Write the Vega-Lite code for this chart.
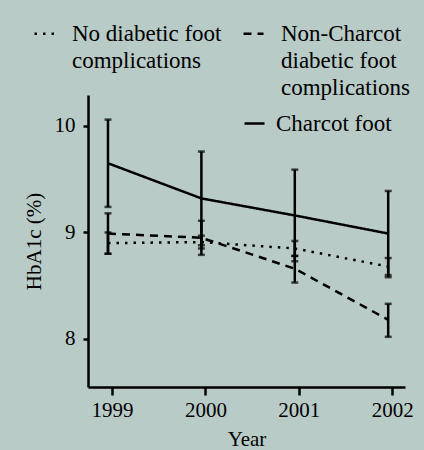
{
  "$schema": "https://vega.github.io/schema/vega-lite/v6.json",
  "width": 317,
  "height": 292,
  "autosize": "none",
  "padding": {"left": 88, "top": 95, "right": 19, "bottom": 63},
  "background": "#b9cbc7",
  "config": {
    "view": {"stroke": null},
    "font": "Liberation Serif",
    "axis": {
      "grid": false,
      "domainColor": "black",
      "domainWidth": 2.5,
      "tickColor": "black",
      "tickWidth": 2.5,
      "labelFont": "Liberation Serif",
      "labelFontSize": 21,
      "labelColor": "black",
      "titleFont": "Liberation Serif",
      "titleFontSize": 21,
      "titleFontWeight": "normal",
      "titleColor": "black"
    }
  },
  "data": {
    "values": [
      {"group": "No diabetic foot complications", "year": 1999, "mean": 8.90, "lo": 8.80, "hi": 9.00},
      {"group": "No diabetic foot complications", "year": 2000, "mean": 8.91, "lo": 8.85, "hi": 8.97},
      {"group": "No diabetic foot complications", "year": 2001, "mean": 8.85, "lo": 8.78, "hi": 8.92},
      {"group": "No diabetic foot complications", "year": 2002, "mean": 8.68, "lo": 8.60, "hi": 8.76},
      {"group": "Non-Charcot diabetic foot complications", "year": 1999, "mean": 8.99, "lo": 8.80, "hi": 9.18},
      {"group": "Non-Charcot diabetic foot complications", "year": 2000, "mean": 8.95, "lo": 8.79, "hi": 9.11},
      {"group": "Non-Charcot diabetic foot complications", "year": 2001, "mean": 8.66, "lo": 8.53, "hi": 8.78},
      {"group": "Non-Charcot diabetic foot complications", "year": 2002, "mean": 8.18, "lo": 8.02, "hi": 8.33},
      {"group": "Charcot foot", "year": 1999, "mean": 9.65, "lo": 9.24, "hi": 10.06},
      {"group": "Charcot foot", "year": 2000, "mean": 9.32, "lo": 8.88, "hi": 9.76},
      {"group": "Charcot foot", "year": 2001, "mean": 9.16, "lo": 8.73, "hi": 9.59},
      {"group": "Charcot foot", "year": 2002, "mean": 8.99, "lo": 8.58, "hi": 9.39}
    ]
  },
  "encoding": {
    "x": {
      "field": "year",
      "type": "quantitative",
      "scale": {"domain": [1998.786, 2002.18], "nice": false, "zero": false},
      "axis": {
        "values": [1999, 2000, 2001, 2002],
        "format": "d",
        "tickSize": 8,
        "labelPadding": 4,
        "tickOffset": 4,
        "title": "Year",
        "titlePadding": 8
      }
    }
  },
  "layer": [
    {
      "transform": [{"filter": "datum.group != 'Charcot foot'"}],
      "mark": {"type": "line", "color": "black", "strokeWidth": 2.5},
      "encoding": {
        "y": {
          "field": "mean",
          "type": "quantitative",
          "title": "HbA1c (%)",
          "scale": {"domain": [7.549, 10.291], "nice": false, "zero": false},
          "axis": {
            "values": [8, 9, 10],
            "format": "d",
            "tickSize": 5,
            "labelPadding": 8,
            "title": "HbA1c (%)",
            "titlePadding": 10
          }
        },
        "strokeDash": {
          "field": "group",
          "type": "nominal",
          "scale": {
            "domain": ["No diabetic foot complications", "Non-Charcot diabetic foot complications"],
            "range": [[2.5, 6], [8, 6]]
          },
          "legend": {
            "orient": "none",
            "legendX": -55,
            "legendY": -73,
            "direction": "horizontal",
            "columns": 2,
            "title": null,
            "labelFont": "Liberation Serif",
            "labelFontSize": 23,
            "labelColor": "black",
            "labelLimit": 400,
            "symbolType": "stroke",
            "symbolSize": 400,
            "symbolStrokeWidth": 2.5,
            "symbolStrokeColor": "black",
            "labelOffset": 16,
            "columnPadding": 16,
            "labelExpr": "datum.label == 'No diabetic foot complications' ? ['No diabetic foot', 'complications', ''] : ['Non-Charcot', 'diabetic foot', 'complications']",
            "encode": {"labels": {"update": {"lineHeight": {"value": 27}}}}
          }
        }
      }
    },
    {
      "mark": {"type": "errorbar", "color": "black", "thickness": 2.5, "ticks": {"size": 7, "thickness": 2.5, "color": "black"}},
      "encoding": {
        "y": {"field": "lo", "type": "quantitative", "title": "HbA1c (%)"},
        "y2": {"field": "hi"}
      }
    },
    {
      "transform": [{"filter": "datum.group == 'Charcot foot'"}],
      "mark": {"type": "line", "color": "black", "strokeWidth": 2.5},
      "encoding": {
        "y": {"field": "mean", "type": "quantitative", "title": "HbA1c (%)"},
        "strokeDash": {
          "field": "group",
          "type": "nominal",
          "scale": {"domain": ["Charcot foot"], "range": [[1, 0]]},
          "legend": {
            "orient": "none",
            "legendX": 155,
            "legendY": 17,
            "title": null,
            "labelFont": "Liberation Serif",
            "labelFontSize": 23,
            "labelColor": "black",
            "labelLimit": 400,
            "symbolType": "stroke",
            "symbolSize": 400,
            "symbolStrokeWidth": 2.5,
            "symbolStrokeColor": "black",
            "labelOffset": 10
          }
        }
      }
    }
  ],
  "resolve": {"scale": {"strokeDash": "independent"}, "legend": {"strokeDash": "independent"}}
}
